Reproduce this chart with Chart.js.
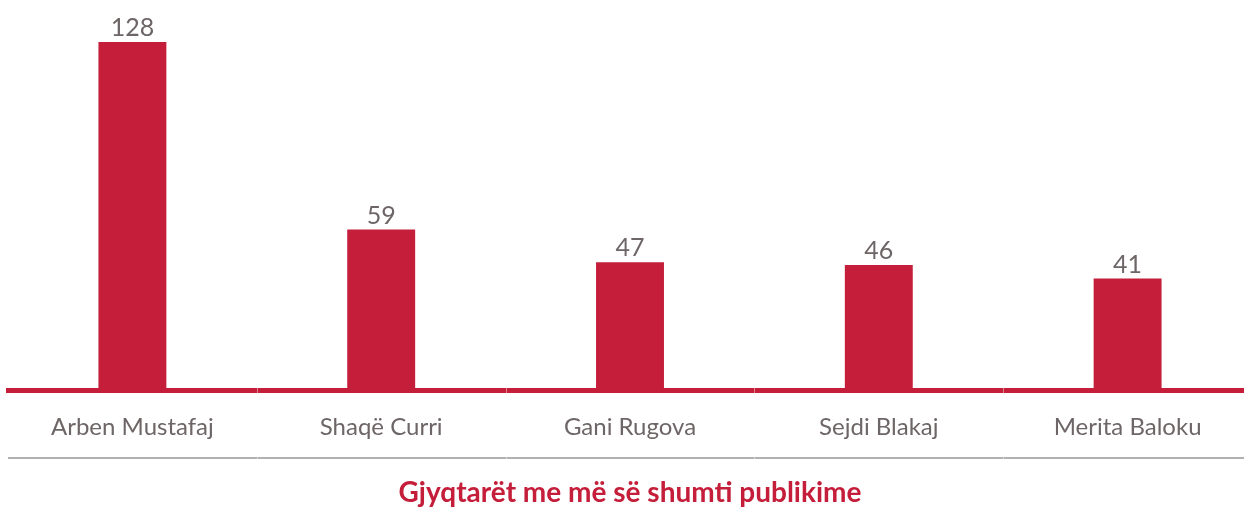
<!DOCTYPE html>
<html>
<head>
<meta charset="utf-8">
<script src="https://cdn.jsdelivr.net/npm/chart.js@4"></script>
<style>
  html, body { margin: 0; padding: 0; background: #fff; overflow: hidden; }
  #wrap { width: 1252px; height: 508px; }
</style>
</head>
<body>
<div id="wrap"><canvas id="barChart"></canvas></div>
<script>
// judges with the most publications
const judges = ['Arben Mustafaj', 'Shaqë Curri', 'Gani Rugova', 'Sejdi Blakaj', 'Merita Baloku'];
const publications = [128, 59, 47, 46, 41];

const RED = '#c41e3a';
const GREY_TEXT = '#6d6566';

// value labels above bars, gray rule under the axis, light breaks between categories
const decorations = {
  id: 'decorations',
  afterDatasetsDraw(chart) {
    const { ctx } = chart;
    const meta = chart.getDatasetMeta(0);
    ctx.save();
    ctx.fillStyle = GREY_TEXT;
    ctx.font = '25px Lato';
    ctx.textAlign = 'center';
    ctx.textBaseline = 'alphabetic';
    meta.data.forEach((bar, i) => {
      ctx.fillText(publications[i], bar.x, bar.y - 6);
    });
    ctx.restore();
  },
  afterDraw(chart) {
    const { ctx, chartArea } = chart;
    const x = chart.scales.x;
    ctx.save();
    ctx.strokeStyle = '#b3b0b0';
    ctx.lineWidth = 2;
    ctx.beginPath();
    ctx.moveTo(chartArea.left, x.bottom);
    ctx.lineTo(chartArea.right, x.bottom);
    ctx.stroke();
    // faint breaks at category edges
    ctx.strokeStyle = 'rgba(255,255,255,0.45)';
    ctx.lineWidth = 1;
    for (let i = 1; i < judges.length; i++) {
      const bx = Math.round((x.getPixelForValue(i - 1) + x.getPixelForValue(i)) / 2) + 0.5;
      ctx.beginPath();
      ctx.moveTo(bx, chartArea.bottom - 3);
      ctx.lineTo(bx, chartArea.bottom + 3);
      ctx.moveTo(bx, x.bottom - 1);
      ctx.lineTo(bx, x.bottom + 1);
      ctx.stroke();
    }
    ctx.restore();
  }
};

const ctx = document.getElementById('barChart').getContext('2d');
const barChart = new Chart(ctx, {
  type: 'bar',
  data: {
    labels: judges,
    datasets: [{
      data: publications,
      backgroundColor: RED,
      barPercentage: 0.273,
      categoryPercentage: 1
    }]
  },
  options: {
    responsive: true,
    maintainAspectRatio: false,
    animation: false,
    layout: { padding: { top: 23, left: 8, right: 0, bottom: 0 } },
    plugins: {
      legend: { display: false },
      tooltip: { enabled: false },
      title: {
        display: true,
        position: 'bottom',
        text: 'Gjyqtarët me më së shumti publikime',
        color: RED,
        font: { family: 'Lato', size: 28, weight: 'bold', lineHeight: 1 },
        padding: { top: 21, bottom: 1 }
      }
    },
    scales: {
      x: {
        grid: { display: false, drawTicks: false },
        border: { display: true, color: RED, width: 5 },
        ticks: { color: GREY_TEXT, font: { family: 'Lato', size: 24 }, padding: 23 },
        afterFit(axis) { axis.height = 68; }
      },
      y: {
        display: false,
        min: 0,
        max: 135
      }
    }
  },
  plugins: [decorations]
});
</script>
</body>
</html>
